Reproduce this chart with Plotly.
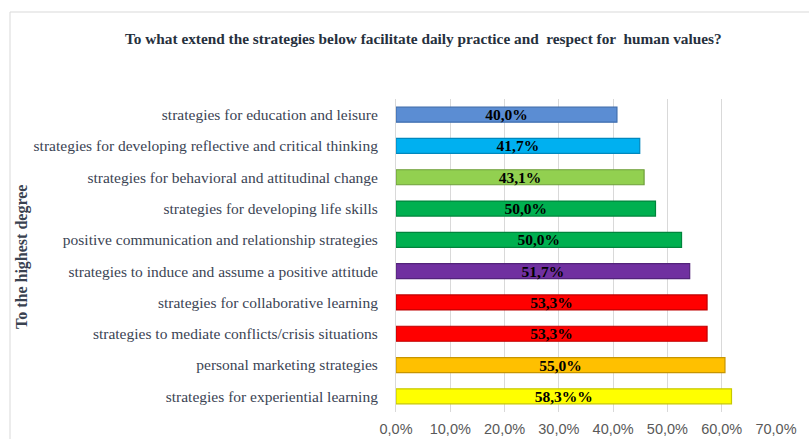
import plotly.graph_objects as go

categories = [
    "strategies for education and leisure",
    "strategies for developing reflective and critical thinking",
    "strategies for behavioral and attitudinal change",
    "strategies for developing life skills",
    "positive communication and relationship strategies",
    "strategies to induce and assume a positive attitude",
    "strategies for collaborative learning",
    "strategies to mediate conflicts/crisis situations",
    "personal marketing strategies",
    "strategies for experiential learning",
]
# bar lengths as drawn in the picture (fraction)
bar_values = [0.407, 0.449, 0.457, 0.478, 0.526, 0.541, 0.573, 0.573, 0.606, 0.618]
# data labels as printed on the bars
bar_labels = ["40,0%", "41,7%", "43,1%", "50,0%", "50,0%", "51,7%", "53,3%", "53,3%", "55,0%", "58,3%%"]
bar_colors = ["#5B8DD3", "#00B0F0", "#92D050", "#00B050", "#00B050",
              "#7030A0", "#FF0000", "#FF0000", "#FFC000", "#FFFF00"]
line_colors = ["#3E6DAE", "#0088BE", "#6E9E3A", "#00853C", "#00853C",
               "#52237A", "#C00000", "#C00000", "#C79500", "#C8C800"]
x_ticks = [0, 0.1, 0.2, 0.3, 0.4, 0.5, 0.6, 0.7]

title_text = "To what extend the strategies below facilitate daily practice and  respect for  human values?"
y_title = "To the highest degree"

serif = "Liberation Serif, Times New Roman, serif"

fig = go.Figure(go.Bar(
    y=categories,
    x=bar_values,
    orientation="h",
    marker=dict(color=bar_colors, line=dict(color=line_colors, width=1.2)),
    text=["<b>" + t + "</b>" for t in bar_labels],
    textposition="inside",
    insidetextanchor="middle",
    textfont=dict(family=serif, size=15.5, color="black"),
    constraintext="none",
    hoverinfo="skip",
))

L, T, R, B = 396, 99, 776, 412
W, H = R - L, B - T

fig.update_layout(
    width=809, height=439,
    margin=dict(l=L, r=809 - R, t=T, b=439 - B, autoexpand=False),
    paper_bgcolor="white", plot_bgcolor="white",
    separators=",.",
    bargap=0.52,
    showlegend=False,
    annotations=[
        dict(text="<b>" + title_text + "</b>", xref="paper", yref="paper",
             x=(423 - L) / W, y=(B - 38) / H, xanchor="center", yanchor="middle",
             showarrow=False, font=dict(family=serif, size=15.3, color="#26303d")),
        dict(text="<b>" + y_title + "</b>", xref="paper", yref="paper",
             x=(22 - L) / W, y=(B - 257) / H, xanchor="center", yanchor="middle",
             textangle=-90, showarrow=False, font=dict(family=serif, size=16, color="#3a4250")),
    ],
    shapes=[
        dict(type="rect", xref="paper", yref="paper",
             x0=(10 - L) / W, x1=(815 - L) / W,
             y0=(B - 445) / H, y1=(B - 12) / H,
             line=dict(color="#d9d9d9", width=1), layer="below"),
    ],
)

fig.update_xaxes(
    range=[0, 0.7], tickvals=x_ticks, tickformat=".1%",
    showgrid=True, gridcolor="#d9d9d9", gridwidth=1,
    zeroline=False, showline=False,
    tickfont=dict(family="Liberation Sans, Arial, sans-serif", size=14.5, color="#595959"),
    ticklabelstandoff=6,
)
fig.update_yaxes(
    autorange="reversed",
    showline=True, linecolor="#d9d9d9", linewidth=1,
    tickfont=dict(family=serif, size=15.5, color="#3b4454"),
    ticklabelstandoff=14,
)

fig.write_html("out.html", config={"displayModeBar": False},
               post_script="document.body.style.margin='0';document.body.style.overflow='hidden';")
